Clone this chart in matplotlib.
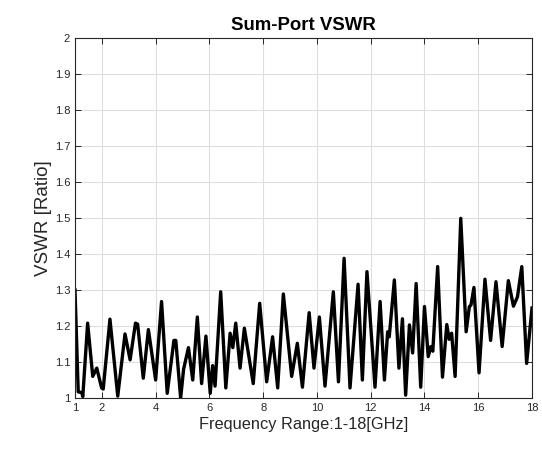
import matplotlib
matplotlib.use("Agg")
import matplotlib.pyplot as plt

freq = [1.0, 1.12, 1.25, 1.29, 1.47, 1.66, 1.81, 1.99, 2.05, 2.30, 2.59, 2.86, 3.05,
        3.25, 3.33, 3.54, 3.73, 4.0, 4.22, 4.43, 4.68, 4.75, 4.93, 5.04, 5.22, 5.38,
        5.55, 5.71, 5.87, 6.03, 6.12, 6.21, 6.42, 6.61, 6.77, 6.87, 6.98, 7.14, 7.30,
        7.63, 7.87, 8.13, 8.35, 8.54, 8.75, 9.06, 9.27, 9.46, 9.71, 9.89, 10.09, 10.30,
        10.61, 10.80, 11.01, 11.23, 11.53, 11.69, 11.86, 12.16, 12.35, 12.51, 12.63,
        12.69, 12.88, 13.05, 13.18, 13.30, 13.44, 13.56, 13.69, 13.86, 14.0, 14.14,
        14.24, 14.31, 14.49, 14.67, 14.83, 14.92, 15.01, 15.14, 15.35, 15.55, 15.67,
        15.73, 15.84, 16.03, 16.25, 16.46, 16.66, 16.89, 17.12, 17.31, 17.46, 17.62,
        17.80, 18.0]
vswr = [1.30, 1.017, 1.015, 1.004, 1.208, 1.06, 1.083, 1.028, 1.025, 1.219, 1.005, 1.178, 1.106,
        1.208, 1.205, 1.055, 1.19, 1.05, 1.268, 1.013, 1.16, 1.16, 1.0, 1.08, 1.14, 1.05,
        1.225, 1.04, 1.172, 1.013, 1.09, 1.033, 1.295, 1.028, 1.18, 1.14, 1.208, 1.083, 1.194,
        1.04, 1.263, 1.045, 1.17, 1.028, 1.289, 1.06, 1.152, 1.03, 1.237, 1.083, 1.225, 1.033,
        1.295, 1.045, 1.388, 1.028, 1.316, 1.05, 1.351, 1.03, 1.268, 1.05, 1.184,
        1.17, 1.328, 1.083, 1.22, 1.008, 1.203, 1.125, 1.318, 1.03, 1.254, 1.115,
        1.143, 1.13, 1.365, 1.058, 1.204, 1.163, 1.18, 1.06, 1.499, 1.184, 1.254,
        1.258, 1.307, 1.07, 1.33, 1.16, 1.323, 1.143, 1.326, 1.255, 1.281, 1.365,
        1.096, 1.25]

xticks = [1, 2, 4, 6, 8, 10, 12, 14, 16, 18]
yticks = [1.0, 1.1, 1.2, 1.3, 1.4, 1.5, 1.6, 1.7, 1.8, 1.9, 2.0]
ytick_labels = ["1", "1.1", "1.2", "1.3", "1.4", "1.5", "1.6", "1.7", "1.8", "1.9", "2"]

plt.rcParams['font.family'] = ['Liberation Sans', 'DejaVu Sans']

fig = plt.figure(figsize=(5.42, 4.5), dpi=100)
fig.patch.set_facecolor('white')
ax = fig.add_axes([75/542, 1-398/450, (532-75)/542, (398-38)/450])

ax.plot(freq, vswr, color='black', linewidth=2.4, solid_joinstyle='round')

ax.set_xlim(1, 18)
ax.set_ylim(1, 2)
ax.set_xticks(xticks)
ax.set_xticklabels([str(t) for t in xticks])
ax.set_yticks(yticks)
ax.set_yticklabels(ytick_labels)
ax.grid(True, color='#dedede', linewidth=0.8)
ax.set_axisbelow(True)
ax.tick_params(direction='in', length=4, width=0.7, colors='#262626', labelsize=8,
               top=True, right=True, labeltop=False, labelright=False)
for s in ax.spines.values():
    s.set_color('#262626')
    s.set_linewidth(0.8)

ax.set_title('Sum-Port VSWR', fontsize=13.4, fontweight='bold', pad=6)
ax.set_xlabel('Frequency Range:1-18[GHz]', fontsize=11.8, color='#262626', labelpad=3)
ax.set_ylabel('VSWR [Ratio]', fontsize=13.5, color='#262626', labelpad=2)

fig.savefig('out.png', dpi=100, facecolor='white')
